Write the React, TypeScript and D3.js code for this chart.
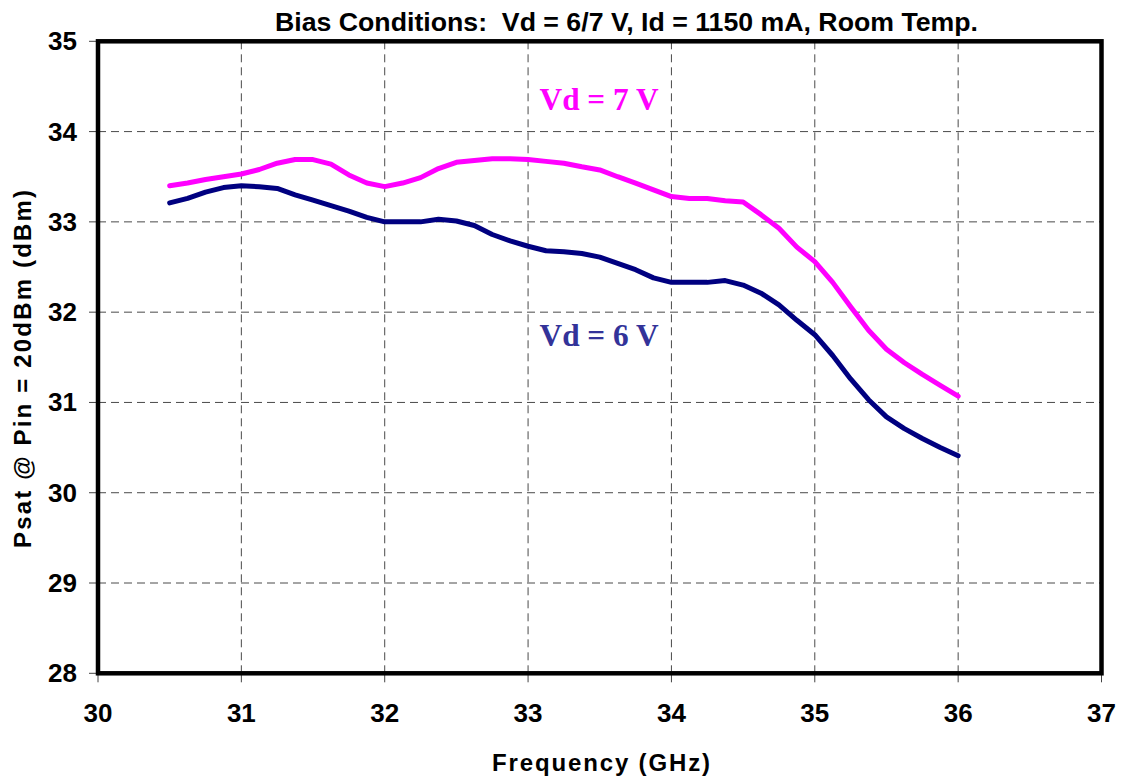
import * as d3 from "d3";

const FREQ = [
  30.5, 30.625, 30.75, 30.875, 31, 31.125, 31.25, 31.375, 31.5, 31.625, 31.75, 31.875,
  32, 32.125, 32.25, 32.375, 32.5, 32.625, 32.75, 32.875, 33, 33.125, 33.25, 33.375,
  33.5, 33.625, 33.75, 33.875, 34, 34.125, 34.25, 34.375, 34.5, 34.625, 34.75, 34.875,
  35, 35.125, 35.25, 35.375, 35.5, 35.625, 35.75, 35.875, 36,
];

const PSAT_7V = [
  33.4, 33.43, 33.47, 33.5, 33.53, 33.58, 33.65, 33.69, 33.69, 33.64, 33.52, 33.43,
  33.39, 33.43, 33.49, 33.59, 33.66, 33.68, 33.7, 33.7, 33.69, 33.67, 33.65, 33.61,
  33.575, 33.5, 33.43, 33.355, 33.28, 33.26, 33.26, 33.235, 33.22, 33.08, 32.93, 32.72,
  32.56, 32.33, 32.06, 31.8, 31.59, 31.44, 31.31, 31.19, 31.07,
];

const PSAT_6V = [
  33.21, 33.26, 33.33, 33.38, 33.4, 33.39, 33.37, 33.3, 33.24, 33.18, 33.12, 33.05,
  33.0, 33.0, 33.0, 33.03, 33.01, 32.96, 32.86, 32.79, 32.73, 32.68, 32.67, 32.65,
  32.61, 32.54, 32.47, 32.38, 32.33, 32.33, 32.33, 32.35, 32.3, 32.21, 32.08, 31.91,
  31.75, 31.52, 31.26, 31.03, 30.84, 30.71, 30.6, 30.5, 30.41,
];

const X_TICKS = [30, 31, 32, 33, 34, 35, 36, 37];
const Y_TICKS = [28, 29, 30, 31, 32, 33, 34, 35];

const SERIES = [
  { name: "Vd = 7 V", values: PSAT_7V, color: "#ff00ff", labelColor: "#ff00ff", label: [33.08, 34.24] },
  { name: "Vd = 6 V", values: PSAT_6V, color: "#000080", labelColor: "#333399", label: [33.08, 31.63] },
];

const W = 1123;
const H = 777;
const margin = { top: 41.3, right: 21.5, bottom: 103.7, left: 98 };
const SANS = "'Liberation Sans', Arial, sans-serif";
const SERIF = "'Liberation Serif', 'Times New Roman', serif";

export default function App() {
  const x = d3.scaleLinear().domain([30, 37]).range([margin.left, W - margin.right]);
  const y = d3.scaleLinear().domain([28, 35]).range([H - margin.bottom, margin.top]);
  const [x0, x1] = x.range();
  const [y0, y1] = [y(28), y(35)];

  const line = d3
    .line<number>()
    .x((_, i) => x(FREQ[i]))
    .y((d) => y(d));

  return (
    <div style={{ position: "absolute", left: 0, top: 0 }}>
      <svg width={W} height={H} style={{ display: "block", background: "#fff" }}>
        {/* grid */}
        {X_TICKS.slice(1, -1).map((t) => (
          <line key={`gx${t}`} x1={x(t)} x2={x(t)} y1={y1} y2={y0} stroke="#4a4a4a" strokeWidth={1} strokeDasharray="8,5" />
        ))}
        {Y_TICKS.slice(1, -1).map((t) => (
          <line key={`gy${t}`} x1={x0} x2={x1} y1={y(t)} y2={y(t)} stroke="#4a4a4a" strokeWidth={1} strokeDasharray="8,5" />
        ))}

        {/* ticks */}
        {X_TICKS.map((t) => (
          <line key={`tx${t}`} x1={x(t)} x2={x(t)} y1={y0} y2={y0 + 9} stroke="#444" strokeWidth={1} />
        ))}
        {Y_TICKS.map((t) => (
          <line key={`ty${t}`} x1={x0 - 9} x2={x0} y1={y(t)} y2={y(t)} stroke="#444" strokeWidth={1} />
        ))}

        {/* series */}
        {SERIES.map((s) => (
          <path
            key={s.name}
            d={line(s.values) ?? ""}
            fill="none"
            stroke={s.color}
            strokeWidth={5}
            strokeLinejoin="round"
            strokeLinecap="round"
          />
        ))}

        {/* frame */}
        <rect x={x0} y={y1} width={x1 - x0} height={y0 - y1} fill="none" stroke="#000" strokeWidth={4.5} />

        {/* tick labels */}
        {Y_TICKS.map((t) => (
          <text
            key={`ly${t}`}
            x={77}
            y={y(t)}
            textAnchor="end"
            dominantBaseline="central"
            fontFamily={SANS}
            fontWeight="bold"
            fontSize={26}
          >
            {t}
          </text>
        ))}
        {X_TICKS.map((t) => (
          <text
            key={`lx${t}`}
            x={x(t)}
            y={722}
            textAnchor="middle"
            fontFamily={SANS}
            fontWeight="bold"
            fontSize={26}
          >
            {t}
          </text>
        ))}

        {/* series labels */}
        {SERIES.map((s) => (
          <text
            key={`lab${s.name}`}
            x={x(s.label[0])}
            y={y(s.label[1])}
            fill={s.labelColor}
            fontFamily={SERIF}
            fontWeight="bold"
            fontSize={32}
            textLength={119}
            lengthAdjust="spacingAndGlyphs"
          >
            {s.name}
          </text>
        ))}

        {/* title and axis titles */}
        <text
          x={275}
          y={31}
          fontFamily={SANS}
          fontWeight="bold"
          fontSize={25}
          textLength={703}
          lengthAdjust="spacingAndGlyphs"
          style={{ whiteSpace: "pre" }}
        >
          {"Bias Conditions:  Vd = 6/7 V, Id = 1150 mA, Room Temp."}
        </text>
        <text
          x={492}
          y={771}
          fontFamily={SANS}
          fontWeight="bold"
          fontSize={24}
          textLength={218}
          lengthAdjust="spacing"
        >
          Frequency (GHz)
        </text>
        <text
          transform="translate(31,548) rotate(-90)"
          fontFamily={SANS}
          fontWeight="bold"
          fontSize={24}
          textLength={358}
          lengthAdjust="spacing"
        >
          Psat @ Pin = 20dBm (dBm)
        </text>
      </svg>
    </div>
  );
}
